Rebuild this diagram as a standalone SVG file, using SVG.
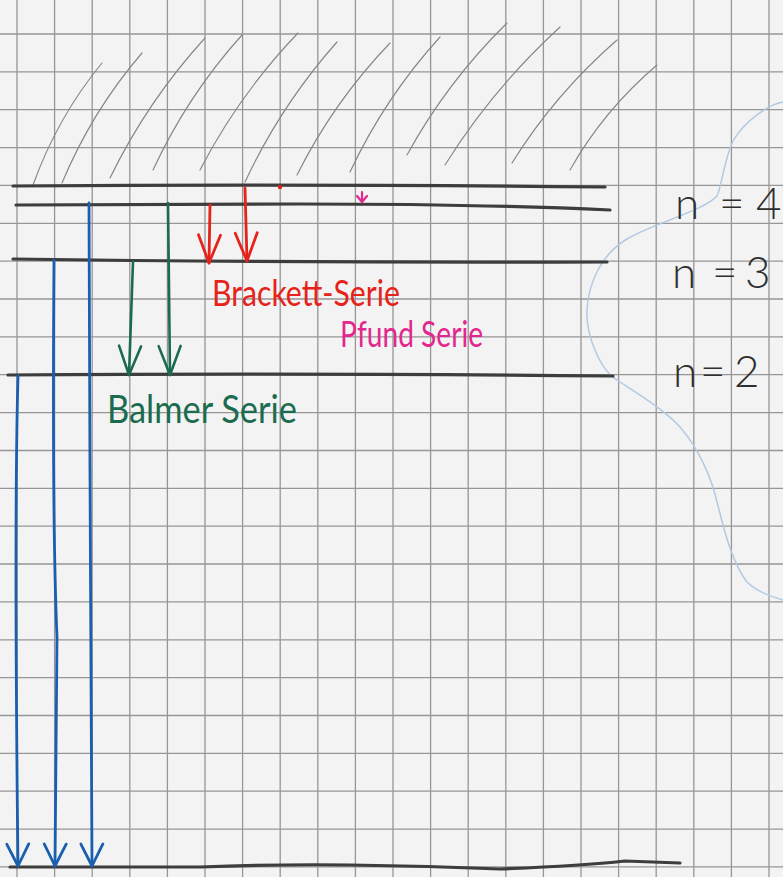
<svg xmlns="http://www.w3.org/2000/svg" width="783" height="877" viewBox="0 0 783 877">
<defs>
<style>
.grid{stroke:#969696;stroke-width:1.3;fill:none}
.hatch{stroke:#868686;stroke-width:1.15;fill:none;stroke-linecap:round}
.level{stroke:#3d3d3d;stroke-width:3.2;fill:none;stroke-linecap:round}
.blue{stroke:#1a5fae;stroke-width:2.8;fill:none;stroke-linecap:round}
.green{stroke:#1b6b4f;stroke-width:2.6;fill:none;stroke-linecap:round}
.red{stroke:#e5231b;stroke-width:2.8;fill:none;stroke-linecap:round}
.lbl{font-family:Lato,"Liberation Sans",sans-serif;font-weight:400}
.nlbl{font-family:Lato,"Liberation Sans",sans-serif;font-weight:300;fill:#2e2e2e;font-size:44px}
</style>
<marker id="hBlue" markerUnits="userSpaceOnUse" orient="auto" refX="0" refY="0" markerWidth="30" markerHeight="30" overflow="visible">
<path d="M-22,-11 L0,0 L-22,11" stroke="#1a5fae" stroke-width="2.8" fill="none" stroke-linecap="round" stroke-linejoin="round"/>
</marker>
<marker id="hGreen" markerUnits="userSpaceOnUse" orient="auto" refX="0" refY="0" markerWidth="30" markerHeight="30" overflow="visible">
<path d="M-29,-11 L0,0 L-29,11" stroke="#1b6b4f" stroke-width="2.6" fill="none" stroke-linecap="round" stroke-linejoin="round"/>
</marker>
<marker id="hRed" markerUnits="userSpaceOnUse" orient="auto" refX="0" refY="0" markerWidth="30" markerHeight="30" overflow="visible">
<path d="M-28,-11 L0,0 L-28,11" stroke="#e5231b" stroke-width="2.8" fill="none" stroke-linecap="round" stroke-linejoin="round"/>
</marker>
</defs>
<rect x="0" y="0" width="783" height="877" fill="#f3f3f3"/>
<g id="grid" class="grid">
<path d="M17,0V877M54.6,0V877M92.2,0V877M129.8,0V877M167.4,0V877M205,0V877M242.6,0V877M280.2,0V877M317.8,0V877M355.4,0V877M393,0V877M430.6,0V877M468.2,0V877M505.8,0V877M543.4,0V877M581,0V877M618.6,0V877M656.2,0V877M693.8,0V877M731.4,0V877M769,0V877"/>
<path d="M0,34H783M0,71.9H783M0,109.7H783M0,147.6H783M0,185.4H783M0,223.3H783M0,261.2H783M0,299H783M0,336.9H783M0,374.7H783M0,412.6H783M0,450.5H783M0,488.3H783M0,526.2H783M0,564H783M0,601.9H783M0,639.8H783M0,677.6H783M0,715.5H783M0,753.3H783M0,791.2H783M0,829.1H783M0,866.9H783"/>
</g>
<g id="hatching" class="hatch">
<path d="M33,185 Q57.5,117 102,63"/>
<path d="M62,183 Q92,111 142,53"/>
<path d="M110,178 Q147.5,101 205,38"/>
<path d="M153,170 Q187.5,95.5 242,35"/>
<path d="M200,170 Q239,94.5 298,33"/>
<path d="M245,182 Q281,105 337,42"/>
<path d="M297,175 Q333.5,102 390,43"/>
<path d="M350,172 Q385,97.5 440,37"/>
<path d="M407,155 Q447,82 507,23"/>
<path d="M445,165 Q492.5,89 560,27"/>
<path d="M512,163 Q554.5,94.5 617,40"/>
<path d="M570,170 Q603.5,110.5 657,65"/>
</g>
<path id="blue-curve" d="M783,102 C770,104 745,120 733,141 C724,160 722,185 717,196 C705,210 650,225 627,239 C600,255 588,285 587,311 C586,335 600,370 617,380 C635,392 665,410 680,427 C700,450 712,480 717,502 C722,520 730,560 747,582 C755,590 765,595 783,600" stroke="#b2c9e2" stroke-width="1.5" fill="none"/>
<g id="level-inf"><path class="level" d="M13,186 Q300,184 605,187"/></g>
<g id="level-n4"><path class="level" d="M16,205 L300,204 Q480,204 610,210"/></g>
<g id="level-n3"><path class="level" d="M13,259 Q300,263 607,262"/></g>
<g id="level-n2"><path class="level" d="M8,375 Q300,373 613,376"/></g>
<g id="level-n1"><path class="level" d="M10,867 L200,867 Q280,864 350,865 Q430,866 500,869 Q580,866 625,861 L680,863"/></g>
<g id="connectors">
<path class="blue" d="M18,376 Q14,520 18,866" marker-end="url(#hBlue)"/>
<path class="blue" d="M54,260 Q52,520 57,637 L55,866" marker-end="url(#hBlue)"/>
<path class="blue" d="M89,203 L90,470 L92,866" marker-end="url(#hBlue)"/>
<path class="green" d="M133,262 L129,375" marker-end="url(#hGreen)"/>
<path class="green" d="M168,203 L170,375" marker-end="url(#hGreen)"/>
<path class="red" d="M210,205 L209,263" marker-end="url(#hRed)"/>
<path class="red" d="M245,188 L247,261" marker-end="url(#hRed)"/>
<g id="pfund-mark" stroke="#e3278f" stroke-width="2.2" fill="none" stroke-linecap="round">
<path d="M362,192 L362,201"/>
<path d="M357,196 L362,202 L367,196"/>
</g>
<circle cx="280" cy="187" r="2.2" fill="#d8231b"/>
</g>
<g id="label-brackett"><text class="lbl" x="212" y="306" font-size="36" fill="#e5231b" textLength="188" lengthAdjust="spacingAndGlyphs">Brackett-Serie</text></g>
<g id="label-pfund"><text class="lbl" x="340" y="347" font-size="37" fill="#e3278f" textLength="143" lengthAdjust="spacingAndGlyphs">Pfund Serie</text></g>
<g id="label-balmer"><text class="lbl" x="107" y="423" font-size="38" fill="#1b6b4f" textLength="190" lengthAdjust="spacingAndGlyphs">Balmer Serie</text></g>
<g id="label-n4"><text class="nlbl" x="675 700 719 745 756" y="219">n = 4</text></g>
<g id="label-n3"><text class="nlbl" x="672 698 712 738 745" y="288">n = 3</text></g>
<g id="label-n2"><text class="nlbl" x="673 700 718 734" y="387">n= 2</text></g>
</svg>
